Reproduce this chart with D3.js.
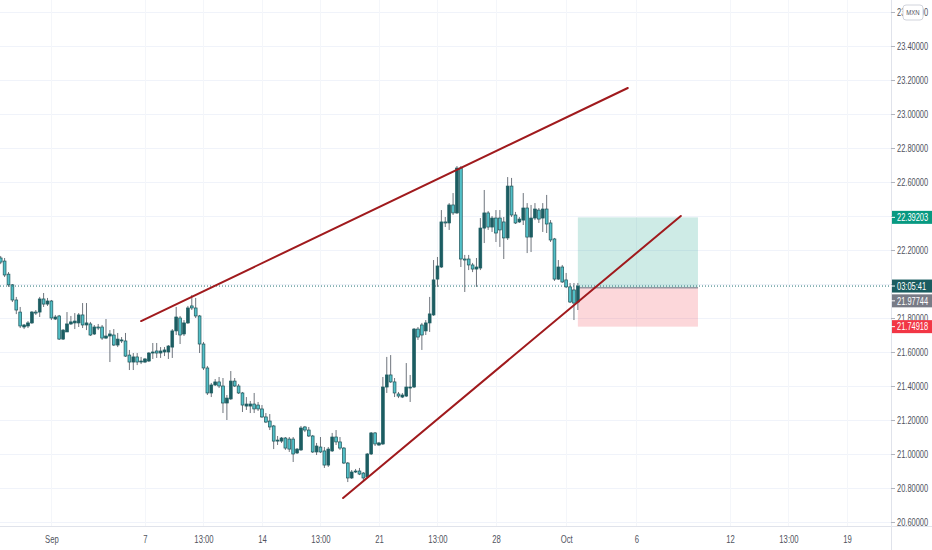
<!DOCTYPE html>
<html>
<head>
<meta charset="utf-8">
<script src="https://cdn.jsdelivr.net/npm/d3@7"></script>
<style>
  html, body { margin: 0; padding: 0; background: #fff; }
  svg { display: block; font-family: "Liberation Sans", Arial, sans-serif; }
</style>
</head>
<body>
<svg id="chart"></svg>
<script>
// USD/MXN 4H candles, first bar is 37 bars before Sep 7 00:00
const firstBar = -37;

const opens = [
  22.153, 22.135, 22.058, 21.995, 21.906, 21.835, 21.747, 21.753, 21.771, 21.835,
  21.835, 21.912, 21.882, 21.900, 21.794, 21.812, 21.676, 21.718, 21.765, 21.771,
  21.771, 21.818, 21.759, 21.765, 21.706, 21.747, 21.747, 21.682, 21.694, 21.700,
  21.641, 21.665, 21.665, 21.582, 21.541, 21.571, 21.541, 21.541, 21.547, 21.594,
  21.606, 21.594, 21.600, 21.600, 21.629, 21.724, 21.800, 21.706, 21.771, 21.871,
  21.859, 21.812, 21.647, 21.506, 21.359, 21.406, 21.424, 21.400, 21.300, 21.324,
  21.429, 21.400, 21.359, 21.282, 21.282, 21.294, 21.288, 21.265, 21.218, 21.194,
  21.165, 21.076, 21.076, 21.094, 21.088, 21.088, 21.006, 21.024, 21.159, 21.141,
  21.106, 21.012, 21.041, 21.018, 20.935, 21.018, 21.100, 21.071, 21.035, 20.947,
  20.859, 20.894, 20.900, 20.888, 20.865, 21.000, 21.124, 21.053, 21.059, 21.394,
  21.465, 21.424, 21.353, 21.335, 21.341, 21.388, 21.394, 21.735, 21.759, 21.724,
  21.771, 21.818, 22.029, 22.100, 22.365, 22.359, 22.465, 22.418, 22.682, 22.147,
  22.147, 22.112, 22.088, 22.094, 22.329, 22.418, 22.335, 22.388, 22.388, 22.365,
  22.271, 22.576, 22.406, 22.365, 22.376, 22.447, 22.276, 22.388, 22.435, 22.388,
  22.441, 22.359, 22.265, 22.029, 22.100, 22.024, 21.983, 21.965, 21.894
];
const highs = [
  22.165, 22.153, 22.070, 22.000, 21.924, 21.865, 21.765, 21.782, 21.841, 21.847,
  21.924, 21.947, 21.918, 21.906, 21.818, 21.818, 21.735, 21.835, 21.812, 21.829,
  21.829, 21.888, 21.888, 21.777, 21.759, 21.765, 21.759, 21.794, 21.729, 21.735,
  21.712, 21.688, 21.712, 21.612, 21.594, 21.594, 21.571, 21.565, 21.600, 21.653,
  21.653, 21.629, 21.629, 21.641, 21.735, 21.865, 21.812, 21.788, 21.871, 21.935,
  21.918, 21.818, 21.659, 21.518, 21.418, 21.441, 21.453, 21.447, 21.347, 21.488,
  21.447, 21.412, 21.365, 21.335, 21.312, 21.359, 21.306, 21.288, 21.241, 21.235,
  21.171, 21.106, 21.100, 21.100, 21.100, 21.100, 21.035, 21.165, 21.165, 21.159,
  21.112, 21.065, 21.100, 21.041, 21.041, 21.124, 21.141, 21.100, 21.041, 20.953,
  20.906, 20.912, 20.918, 20.894, 21.006, 21.129, 21.129, 21.071, 21.453, 21.571,
  21.582, 21.447, 21.365, 21.359, 21.535, 21.465, 21.741, 21.747, 21.771, 21.788,
  21.924, 22.141, 22.159, 22.435, 22.394, 22.476, 22.535, 22.694, 22.694, 22.171,
  22.171, 22.124, 22.153, 22.388, 22.553, 22.429, 22.400, 22.435, 22.435, 22.394,
  22.629, 22.624, 22.424, 22.394, 22.535, 22.476, 22.465, 22.476, 22.447, 22.476,
  22.524, 22.376, 22.271, 22.141, 22.112, 22.065, 22.006, 22.006, 22.006
];
const lows = [
  22.117, 22.041, 21.983, 21.894, 21.823, 21.741, 21.735, 21.741, 21.765, 21.818,
  21.806, 21.865, 21.871, 21.788, 21.788, 21.671, 21.671, 21.718, 21.759, 21.735,
  21.747, 21.741, 21.729, 21.694, 21.700, 21.729, 21.671, 21.676, 21.541, 21.635,
  21.629, 21.653, 21.571, 21.494, 21.494, 21.523, 21.529, 21.535, 21.541, 21.559,
  21.565, 21.565, 21.576, 21.559, 21.565, 21.700, 21.647, 21.694, 21.765, 21.847,
  21.800, 21.594, 21.494, 21.347, 21.335, 21.400, 21.388, 21.241, 21.200, 21.318,
  21.394, 21.353, 21.247, 21.259, 21.241, 21.241, 21.253, 21.212, 21.182, 21.141,
  21.029, 21.053, 21.065, 21.024, 21.012, 20.953, 21.000, 21.018, 21.129, 21.100,
  21.006, 20.994, 21.006, 20.918, 20.924, 21.012, 21.053, 21.024, 20.941, 20.835,
  20.853, 20.888, 20.876, 20.835, 20.859, 20.994, 21.047, 21.047, 21.053, 21.359,
  21.418, 21.335, 21.329, 21.329, 21.335, 21.306, 21.388, 21.671, 21.612, 21.700,
  21.718, 21.812, 21.983, 22.094, 22.335, 22.318, 22.406, 22.412, 22.100, 21.953,
  22.082, 22.070, 21.983, 22.082, 22.241, 22.318, 22.306, 22.247, 22.218, 22.147,
  22.259, 22.394, 22.353, 22.359, 22.347, 22.182, 22.188, 22.376, 22.359, 22.306,
  22.300, 22.247, 22.018, 22.024, 22.006, 21.976, 21.888, 21.788, 21.847
];
const closes = [
  22.129, 22.053, 21.995, 21.906, 21.847, 21.753, 21.759, 21.771, 21.835, 21.829,
  21.912, 21.882, 21.900, 21.800, 21.806, 21.676, 21.729, 21.765, 21.777, 21.782,
  21.818, 21.759, 21.771, 21.700, 21.747, 21.741, 21.682, 21.694, 21.706, 21.641,
  21.676, 21.671, 21.576, 21.541, 21.571, 21.541, 21.547, 21.559, 21.594, 21.600,
  21.594, 21.606, 21.612, 21.635, 21.724, 21.806, 21.700, 21.771, 21.859, 21.859,
  21.812, 21.647, 21.506, 21.359, 21.406, 21.424, 21.400, 21.300, 21.329, 21.429,
  21.400, 21.359, 21.288, 21.294, 21.294, 21.265, 21.265, 21.218, 21.188, 21.159,
  21.076, 21.082, 21.094, 21.035, 21.029, 21.000, 21.029, 21.153, 21.141, 21.106,
  21.012, 21.047, 21.012, 20.935, 21.029, 21.100, 21.071, 21.035, 20.947, 20.859,
  20.894, 20.900, 20.882, 20.859, 21.000, 21.124, 21.059, 21.065, 21.394, 21.465,
  21.424, 21.359, 21.341, 21.347, 21.394, 21.394, 21.735, 21.688, 21.700, 21.771,
  21.824, 22.024, 22.106, 22.365, 22.359, 22.465, 22.418, 22.682, 22.147, 22.141,
  22.112, 22.088, 22.100, 22.329, 22.418, 22.335, 22.388, 22.300, 22.318, 22.271,
  22.576, 22.406, 22.359, 22.382, 22.447, 22.276, 22.388, 22.441, 22.382, 22.441,
  22.353, 22.259, 22.029, 22.100, 22.012, 21.983, 21.894, 21.888, 21.988
];

// time axis: bar offsets from Sep 7 00:00 and their labels
const timeTicks = [-24, 0, 15, 30, 45, 60, 75, 90, 108, 126, 150, 165, 180];
const timeLabels = ["Sep", "7", "13:00", "14", "13:00", "21", "13:00", "28", "Oct", "6", "12", "13:00", "19"];

const priceTicks = [20.6, 20.8, 21.0, 21.2, 21.4, 21.6, 21.8, 22.0, 22.2, 22.4, 22.6, 22.8, 23.0, 23.2, 23.4, 23.6];

// drawings: trend lines [bar, price]
const upperTrend = [[-1.0, 21.782], [123.8, 23.153]];
const lowerTrend = [[50.8, 20.741], [137.4, 22.400]];

// long position tool
const positionBars = [111, 141.8];
const targetPrice = 22.39203;
const entryPrice = 21.97744;
const stopPrice = 21.74918;
const lastPrice = 21.988;
const countdown = "03:05:41";

const width = 932;
const height = 550;
const plotW = 891;
const plotH = 526;

const svg = d3.select('#chart')
  .attr('width', width)
  .attr('height', height);

svg.append('rect').attr('width', width).attr('height', height).attr('fill', '#fff');

const x = d3.scaleLinear().domain([-37.18, 191.3]).range([0, plotW]);
const y = d3.scaleLinear().domain([20.5765, 23.6706]).range([plotH, 0]);

svg.append('clipPath').attr('id', 'plot')
  .append('rect').attr('width', plotW).attr('height', plotH);

const plot = svg.append('g').attr('clip-path', 'url(#plot)');

// grid
plot.append('g')
  .selectAll('line')
  .data(priceTicks)
  .enter()
  .append('line')
  .attr('x1', 0).attr('x2', plotW)
  .attr('y1', d => Math.round(y(d)) + 0.5).attr('y2', d => Math.round(y(d)) + 0.5)
  .attr('stroke', '#f0f3fa');

plot.append('g')
  .selectAll('line')
  .data(timeTicks)
  .enter()
  .append('line')
  .attr('y1', 0).attr('y2', plotH)
  .attr('x1', d => Math.round(x(d)) + 0.5).attr('x2', d => Math.round(x(d)) + 0.5)
  .attr('stroke', '#f4f6fa');

// position box
const bx0 = x(positionBars[0]);
const bx1 = x(positionBars[1]);
plot.append('rect')
  .attr('x', bx0).attr('width', bx1 - bx0)
  .attr('y', y(targetPrice)).attr('height', y(entryPrice) - y(targetPrice))
  .attr('fill', 'rgba(8,153,129,0.2)');
plot.append('rect')
  .attr('x', bx0).attr('width', bx1 - bx0)
  .attr('y', y(entryPrice)).attr('height', y(stopPrice) - y(entryPrice))
  .attr('fill', 'rgba(242,54,69,0.2)');
plot.append('line')
  .attr('x1', bx0).attr('x2', bx1)
  .attr('y1', y(entryPrice)).attr('y2', y(entryPrice))
  .attr('stroke', '#9598a1').attr('stroke-width', 1.5);

// candles
const candles = opens.map((o, k) => ({
  bar: firstBar + k, o: o, h: highs[k], l: lows[k], c: closes[k]
}));

const cg = plot.append('g');
cg.selectAll('line')
  .data(candles)
  .enter()
  .append('line')
  .attr('x1', d => x(d.bar)).attr('x2', d => x(d.bar))
  .attr('y1', d => y(d.h)).attr('y2', d => y(d.l))
  .attr('stroke', '#6f757d')
  .attr('stroke-width', 1);

cg.selectAll('rect')
  .data(candles)
  .enter()
  .append('rect')
  .attr('x', d => x(d.bar) - 1.4)
  .attr('width', 2.8)
  .attr('y', d => y(Math.max(d.o, d.c)))
  .attr('height', d => Math.max(1, Math.abs(y(d.o) - y(d.c))))
  .attr('fill', d => d.c >= d.o ? '#1c5d62' : '#52c0c8')
  .attr('stroke', d => d.c >= d.o ? '#1c5d62' : '#1f5257')
  .attr('stroke-width', 0.7);

// current price line
plot.append('line')
  .attr('x1', 0).attr('x2', plotW)
  .attr('y1', y(lastPrice)).attr('y2', y(lastPrice))
  .attr('stroke', '#1e6f73')
  .attr('stroke-width', 1)
  .attr('stroke-dasharray', '1,2');

// trend lines
[upperTrend, lowerTrend].forEach(t => {
  plot.append('line')
    .attr('x1', x(t[0][0])).attr('y1', y(t[0][1]))
    .attr('x2', x(t[1][0])).attr('y2', y(t[1][1]))
    .attr('stroke', '#a01a1d')
    .attr('stroke-width', 2)
    .attr('stroke-linecap', 'round');
});

// narrow the label glyphs like the original (horizontal scale around the anchor)
const squeeze = (sel, k) => sel.each(function () {
  const t = d3.select(this);
  const x0 = +t.attr('x') || 0;
  t.attr('x', 0).attr('transform', `translate(${x0},0) scale(${k},1)`);
});

// borders
svg.append('line')
  .attr('x1', 0).attr('x2', width)
  .attr('y1', plotH + 0.5).attr('y2', plotH + 0.5)
  .attr('stroke', '#e0e3eb');
svg.append('line')
  .attr('x1', plotW + 0.5).attr('x2', plotW + 0.5)
  .attr('y1', 0).attr('y2', height)
  .attr('stroke', '#e0e3eb');

// price axis
const yAxis = svg.append('g')
  .attr('transform', `translate(${plotW},0)`)
  .call(d3.axisRight(y).tickValues(priceTicks).tickFormat(d3.format('.5f')).tickSize(4).tickPadding(2));
yAxis.select('.domain').remove();
yAxis.selectAll('line').attr('stroke', '#b2b5be');
yAxis.selectAll('text')
  .attr('fill', '#50535e')
  .style('font-size', '11px')
  .call(squeeze, 0.68);

// time axis
const xAxis = svg.append('g')
  .attr('transform', `translate(0,${plotH})`)
  .call(d3.axisBottom(x).tickValues(timeTicks).tickFormat((d, i) => timeLabels[i]).tickSize(0).tickPadding(9));
xAxis.select('.domain').remove();
xAxis.selectAll('text')
  .attr('fill', '#50535e')
  .style('font-size', '11px')
  .call(squeeze, 0.7);

// price labels on the axis
const tags = [
  { price: targetPrice, text: d3.format('.5f')(targetPrice), fill: '#089981', shift: 0 },
  { price: lastPrice, text: countdown, fill: '#1a5c60', shift: 0 },
  { price: entryPrice, text: d3.format('.5f')(entryPrice), fill: '#787b86', shift: 13 },
  { price: stopPrice, text: d3.format('.5f')(stopPrice), fill: '#f23645', shift: 0 }
];
const tagG = svg.append('g');
tags.forEach(t => {
  const cy = y(t.price) + t.shift;
  tagG.append('rect')
    .attr('x', plotW + 1).attr('y', cy - 6.5)
    .attr('width', width - plotW - 1).attr('height', 13)
    .attr('fill', t.fill);
  tagG.append('line')
    .attr('x1', plotW).attr('x2', plotW + 4)
    .attr('y1', cy).attr('y2', cy)
    .attr('stroke', '#fff');
  tagG.append('text')
    .attr('x', plotW + 6).attr('y', cy)
    .attr('dy', '0.35em')
    .attr('fill', '#fff')
    .style('font-size', '11px')
    .text(t.text)
    .call(squeeze, 0.68);
});

// currency badge
svg.append('rect')
  .attr('x', 903).attr('y', 5).attr('width', 20).attr('height', 15).attr('rx', 3)
  .attr('fill', '#fff').attr('stroke', '#d1d4dc');
svg.append('text')
  .attr('x', 913).attr('y', 12.5).attr('dy', '0.35em')
  .attr('text-anchor', 'middle')
  .attr('fill', '#50535e')
  .style('font-size', '8px')
  .text('MXN')
  .call(squeeze, 0.75);
</script>
</body>
</html>
